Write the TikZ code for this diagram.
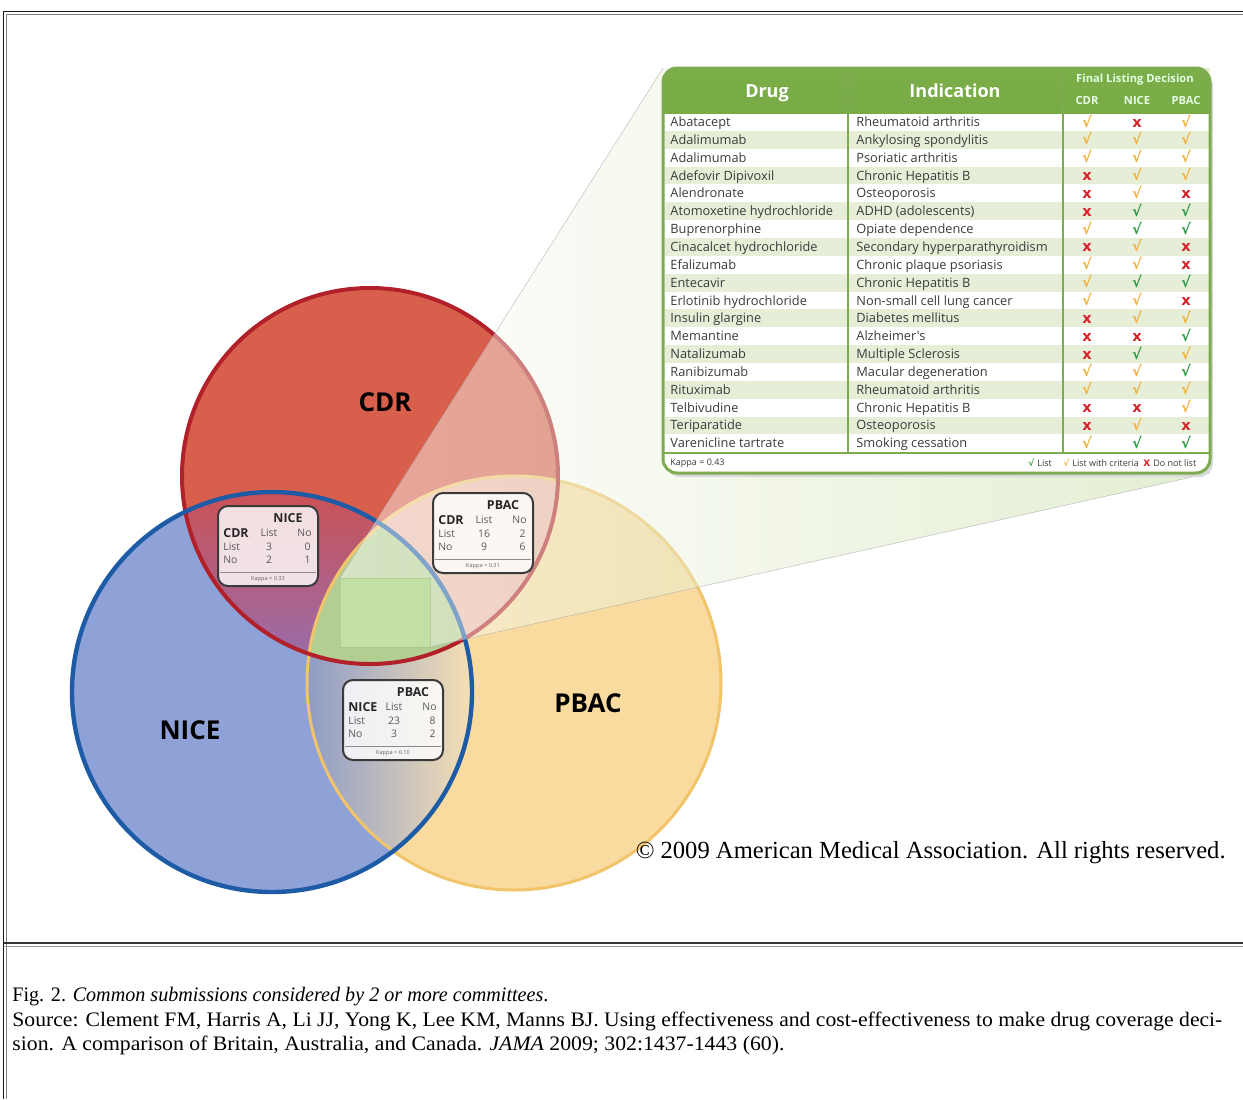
\documentclass[tikz,border=0pt]{standalone}
\usepackage{fontspec}
\usepackage{graphicx}
\usetikzlibrary{calc}
\setmainfont{Liberation Serif}
\newfontfamily\ts{Open Sans}
\newfontfamily\djsym{DejaVu Sans}
\definecolor{cdrfill}{HTML}{D95F4D}
\definecolor{nicefill}{HTML}{8FA2D8}
\definecolor{pbacfill}{HTML}{F9DBA0}
\definecolor{cdrline}{HTML}{B22029}
\definecolor{niceline}{HTML}{1D5BA6}
\definecolor{pbacline}{HTML}{F2C46A}
\definecolor{cpfill}{HTML}{EDB8A8}
\definecolor{triple}{HTML}{B3CE92}
\definecolor{beamgreen}{HTML}{C2D99B}
\definecolor{rectgreen}{HTML}{BFE0A0}
\definecolor{boxline}{HTML}{3A3A3A}
\definecolor{tabline}{HTML}{7EAB4F}
\definecolor{hdrtop}{HTML}{7BAE48}
\definecolor{hdrbot}{HTML}{5F9536}
\definecolor{stripe}{HTML}{E6EED8}
\definecolor{tabtext}{HTML}{3B3B3B}
\definecolor{chkg}{HTML}{2E9A47}
\definecolor{chko}{HTML}{F0B13C}
\definecolor{chkx}{HTML}{D2232A}
\newcommand\symg{\textcolor{chkg}{\djsym\bfseries √}}
\newcommand\symo{\textcolor{chko}{\djsym\bfseries √}}
\newcommand\symx{\textcolor{chkx}{\djsym\bfseries x}}
\begin{document}
\begin{tikzpicture}[x=0.5pt,y=-0.5pt,
  venntitle/.style={font=\ts\bfseries\fontsize{13}{15}\selectfont, text=black, inner sep=0pt},
  kbox/.style={draw=boxline, line width=1pt, rounded corners=5pt, fill=white, fill opacity=0.82},
  ktext/.style={font=\ts\fontsize{5.2}{6}\selectfont, text=black!65, inner sep=0pt},
  kbold/.style={font=\ts\bfseries\fontsize{6.2}{7}\selectfont, text=black!85, inner sep=0pt},
  kappa/.style={font=\ts\fontsize{2.8}{3}\selectfont, text=black!60, inner sep=0pt},
  tabtxt/.style={font=\ts\fontsize{6.4}{7}\selectfont, text=tabtext, inner sep=0pt, anchor=base west},
  hdr/.style={font=\ts\bfseries\fontsize{9}{10}\selectfont, text=white, inner sep=0pt},
  hdrsmall/.style={font=\ts\bfseries\fontsize{5.6}{6}\selectfont, text=white!90!green, inner sep=0pt},
  sym/.style={font=\fontsize{7.3}{8}\selectfont, inner sep=0pt, anchor=base},
  legend/.style={font=\ts\fontsize{4.5}{5}\selectfont, text=tabtext, inner sep=0pt, anchor=west},
  capt/.style={font=\fontsize{10.3}{12}\selectfont, inner sep=0pt, anchor=base west},
]
\useasboundingbox (0,0) rectangle (1243,1099);
% frame
\draw[black!90, line width=0.9pt] (3.5,1099) |- (1243,11.5);
\draw[black!50, line width=0.5pt] (6.5,1099) |- (1243,14.5);
\draw[black!80, line width=1.4pt] (3.5,943) -- (1243,943);
\draw[black!40, line width=0.4pt] (3.5,946) -- (1243,946);

% centres
\coordinate (cC) at (370,476);
\coordinate (cN) at (272,692);
\coordinate (cP) at (514,683);
\def\rC{94pt}\def\rN{100pt}\def\rP{103.5pt}

% circle fills
\fill[pbacfill] (cP) circle[radius=\rP];
\fill[nicefill] (cN) circle[radius=\rN];
\fill[cdrfill] (cC) circle[radius=\rC];
% intersections
\begin{scope}
  \clip (cC) circle[radius=\rC];
  \clip (cN) circle[radius=\rN];
  \shade[top color=cdrfill!85!violet, bottom color=nicefill!75!violet!90!red] (150,490) rectangle (480,665);
\end{scope}
\begin{scope}
  \clip (cC) circle[radius=\rC];
  \fill[cpfill] (cP) circle[radius=\rP];
\end{scope}
\begin{scope}
  \clip (cN) circle[radius=\rN];
  \clip (cP) circle[radius=\rP];
  \shade[left color=nicefill!80!gray, right color=pbacfill!80!white] (305,600) rectangle (480,900);
\end{scope}
\begin{scope}
  \clip (cN) circle[radius=\rN];
  \clip (cC) circle[radius=\rC];
  \fill[triple] (cP) circle[radius=\rP];
\end{scope}
% outlines
\draw[pbacline, line width=1.5pt] (cP) circle[radius=\rP];
\draw[cdrline, line width=2pt] (cC) circle[radius=\rC];
\draw[niceline, line width=2.2pt] (cN) circle[radius=\rN];

% zoom beam
\coordinate (bTL) at (340,578);
\coordinate (bBR) at (430,647);
\coordinate (tTL) at (663,68);
\coordinate (tTR) at (1210,68);
\coordinate (tBR) at (1210,473);
\shade[left color=white, right color=beamgreen, fill opacity=0.45]
  (bTL) -- (tTL) -- (tTR) -- (tBR) -- (bBR) -- (340,647) -- cycle;
\draw[black!35, line width=0.3pt, opacity=0.6] (bTL) -- (tTL);
\draw[black!35, line width=0.3pt, opacity=0.6] (bBR) -- (tBR);
% small green rectangle
\fill[rectgreen, fill opacity=0.8, draw=rectgreen!85!black, draw opacity=0.5, line width=0.4pt] (bTL) rectangle (bBR);

% labels
\node[venntitle] (lC) at (385,402) {CDR};
\node[venntitle] (lN) at (190,730) {NICE};
\node[venntitle] (lP) at (588,703) {PBAC};

% kappa boxes
\newcommand\kbox[9]{%
  \draw[kbox] (#1,#2) rectangle ++(100,80);
  \draw[black!45, line width=0.4pt] (#1,#2) ++(2,66) -- ++(96,0);
  \node[kbold] (#9h) at ($(#1,#2)+(70,12)$) {#4};
  \node[kbold, anchor=west] (#9r) at ($(#1,#2)+(5,27)$) {#3};
  \node[ktext] (#9c1) at ($(#1,#2)+(51,27)$) {List};
  \node[ktext, anchor=east] (#9c2) at ($(#1,#2)+(94,27)$) {No};
  \node[ktext, anchor=west] (#9r1) at ($(#1,#2)+(5,41)$) {List};
  \node[ktext, anchor=west] (#9r2) at ($(#1,#2)+(5,54)$) {No};
  \node[ktext] (#9a) at ($(#1,#2)+(51,41)$) {#5};
  \node[ktext, anchor=east] (#9b) at ($(#1,#2)+(93,41)$) {#6};
  \node[ktext] (#9c) at ($(#1,#2)+(51,54)$) {#7};
  \node[ktext, anchor=east] (#9d) at ($(#1,#2)+(93,54)$) {#8};
}
\kbox{218}{506}{CDR}{NICE}{3}{0}{2}{1}{ka}
\node[kappa] (kak) at (268,579) {Kappa = 0.33};
\kbox{433}{493}{CDR}{PBAC}{16}{2}{9}{6}{kb}
\node[kappa] (kbk) at (483,566) {Kappa = 0.31};
\kbox{343}{680}{NICE}{PBAC}{23}{8}{3}{2}{kc}
\node[kappa] (kck) at (393,753) {Kappa = 0.10};

% table
\fill[black!15, rounded corners=7pt] (666,72) rectangle (1213,477);
\fill[white, rounded corners=7pt] (663,68) rectangle (1210,473);
\begin{scope}
  \clip (663,68) rectangle (1210,113);
  \shade[top color=hdrtop, bottom color=hdrbot, rounded corners=7pt] (663,68) rectangle (1210,473);
\end{scope}
\foreach \d/\ind/\a/\b/\c [count=\i] in {
  Abatacept/Rheumatoid arthritis/o/x/o,
  Adalimumab/Ankylosing spondylitis/o/o/o,
  Adalimumab/Psoriatic arthritis/o/o/o,
  Adefovir Dipivoxil/Chronic Hepatitis B/x/o/o,
  Alendronate/Osteoporosis/x/o/x,
  Atomoxetine hydrochloride/ADHD (adolescents)/x/g/g,
  Buprenorphine/Opiate dependence/o/g/g,
  Cinacalcet hydrochloride/Secondary hyperparathyroidism/x/o/x,
  Efalizumab/Chronic plaque psoriasis/o/o/x,
  Entecavir/Chronic Hepatitis B/o/g/g,
  Erlotinib hydrochloride/Non-small cell lung cancer/o/o/x,
  Insulin glargine/Diabetes mellitus/x/o/o,
  Memantine/Alzheimer's/x/x/g,
  Natalizumab/Multiple Sclerosis/x/g/o,
  Ranibizumab/Macular degeneration/o/o/g,
  Rituximab/Rheumatoid arthritis/o/o/o,
  Telbivudine/Chronic Hepatitis B/x/x/o,
  Teriparatide/Osteoporosis/x/o/x,
  Varenicline tartrate/Smoking cessation/o/g/g}{
  \pgfmathsetmacro\yy{122+(\i-1)*17.85}
  \ifodd\i\else
    \fill[stripe] (664.5,\yy-8.9) rectangle (1208.5,\yy+8.9);
  \fi
  \node[tabtxt] (drug\i) at (670,\yy+4.5) {\d};
  \node[tabtxt] (ind\i) at (856,\yy+4.5) {\ind};
  \node[sym] (s\i a) at (1087,\yy+5) {\csname sym\a\endcsname};
  \node[sym] (s\i b) at (1137,\yy+5) {\csname sym\b\endcsname};
  \node[sym] (s\i c) at (1186,\yy+5) {\csname sym\c\endcsname};
}
\draw[tabline, line width=0.8pt] (848,70) -- (848,453);
\draw[tabline, line width=0.8pt] (1063,70) -- (1063,453);
\draw[tabline, line width=0.8pt] (663,453) -- (1210,453);
\draw[tabline, line width=1.5pt, rounded corners=7pt] (663,68) rectangle (1210,473);
\node[hdr] (hDrug) at (767,93) {Drug};
\node[hdr] (hInd) at (955,91) {Indication};
\node[hdrsmall] (hFinal) at (1135,80) {Final Listing Decision};
\node[hdrsmall] (hC) at (1087,100) {CDR};
\node[hdrsmall] (hN) at (1137,100) {NICE};
\node[hdrsmall] (hP) at (1186,100) {PBAC};
\node[legend] (kap) at (670,463) {Kappa = 0.43};
\node[legend] (lg1) at (1028,463) {\textcolor{chkg}{\djsym\bfseries √}\,\,List};
\node[legend] (lg2) at (1063,463) {\textcolor{chko}{\djsym\bfseries √}\,\,List with criteria};
\node[legend] (lg3) at (1143,463) {\textcolor{chkx}{\djsym\bfseries X}\,\,Do not list};

% copyright
\node[font=\fontsize{12.3}{14}\selectfont, anchor=east, inner sep=0pt] (copy) at (1226,853) {© 2009 American Medical Association. All rights reserved.};

% caption
\node[capt] (cap1) at (12,1001) {\resizebox{268pt}{\height}{Fig. 2. \textit{Common submissions considered by 2 or more committees}.}};
\node[capt] (cap2) at (12,1026) {\resizebox{605pt}{\height}{Source: Clement FM, Harris A, Li JJ, Yong K, Lee KM, Manns BJ. Using effectiveness and cost-effectiveness to make drug coverage deci-}};
\node[capt] (cap3) at (12,1050) {\resizebox{386pt}{\height}{sion. A comparison of Britain, Australia, and Canada. \textit{JAMA} 2009; 302:1437-1443 (60).}};
\end{tikzpicture}
\end{document}
